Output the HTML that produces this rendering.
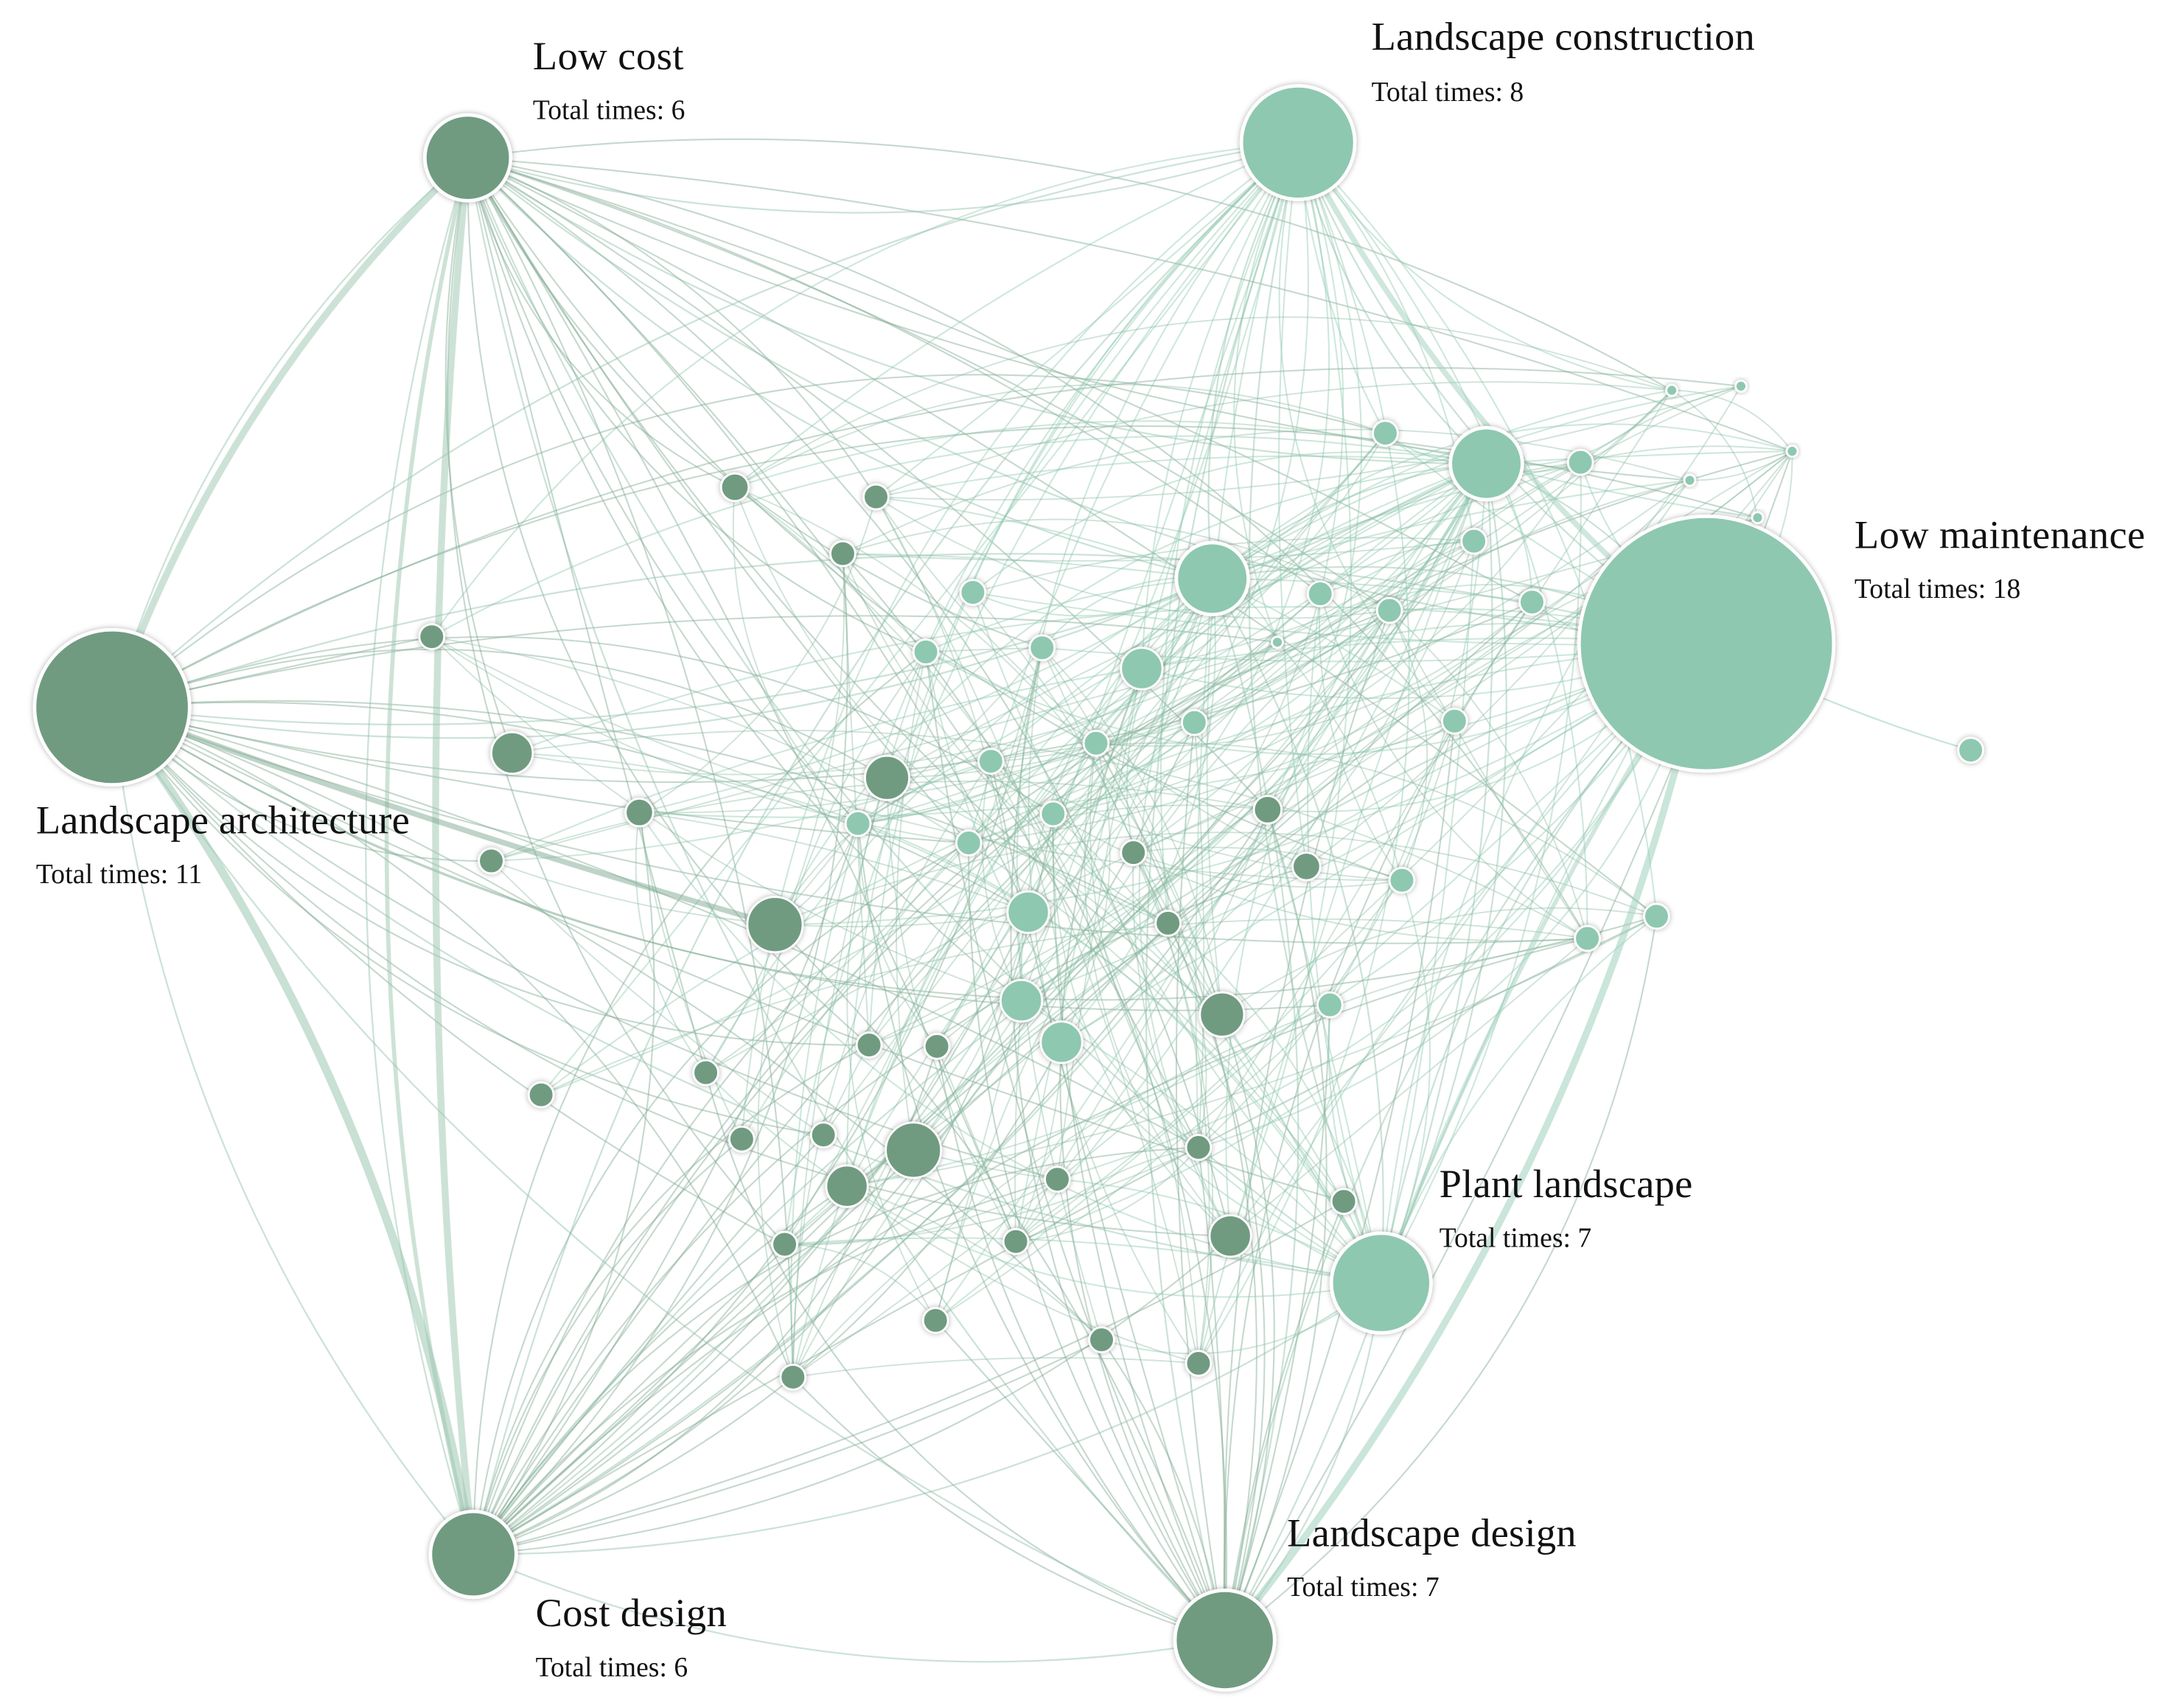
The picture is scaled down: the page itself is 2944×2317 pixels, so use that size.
<!DOCTYPE html>
<html><head><meta charset="utf-8"><style>
html,body{margin:0;padding:0;background:#fff}
svg{display:block}
text{font-family:"Liberation Serif",serif;fill:#111}
</style></head><body>
<svg id="s" width="2944" height="2317" viewBox="0 0 1568 1234" xmlns="http://www.w3.org/2000/svg">
<defs><filter id="sh" x="-30%" y="-30%" width="160%" height="160%"><feDropShadow dx="0" dy="0" stdDeviation="2" flood-color="#000" flood-opacity="0.3"/></filter></defs>
<g id="edges" fill="none"></g>
<g id="nodes"></g>
<g font-size="29" textLength="1">
<text x="385" y="50" textLength="109">Low cost</text>
<text x="991" y="36" textLength="277">Landscape construction</text>
<text x="1340" y="396" textLength="210">Low maintenance</text>
<text x="26" y="602" textLength="270">Landscape architecture</text>
<text x="1040" y="865" textLength="183">Plant landscape</text>
<text x="930" y="1117" textLength="209">Landscape design</text>
<text x="387" y="1175" textLength="138">Cost design</text>
</g>
<g font-size="20">
<text x="385" y="86" textLength="110">Total times: 6</text>
<text x="991" y="73" textLength="110">Total times: 8</text>
<text x="1340" y="432" textLength="120">Total times: 18</text>
<text x="26" y="638" textLength="120">Total times: 11</text>
<text x="1040" y="901" textLength="110">Total times: 7</text>
<text x="930" y="1153" textLength="110">Total times: 7</text>
<text x="387" y="1211" textLength="110">Total times: 6</text>
</g>
</svg>
<script>
var D="#6f9b80",L="#8ec8b0";
var hubs=[[338,114,31,D],[938,103,41,L],[1233,465,92,L],[81,511,56,D],[342,1123,31,D],[885,1185,36,D],[998,927,36,L],[1074,335,26,L],[876,418,26,L]];
var sm=[[531,352,10,D],[633,359,9,D],[609,400,9,D],[312,460,9,D],[370,544,15,D],[462,587,10,D],[641,562,16,D],[355,622,9,D],[560,668,20,D],[819,616,9,D],[916,585,10,D],[944,626,10,D],[844,667,9,D],[883,733,16,D],[628,755,9,D],[677,756,9,D],[510,775,9,D],[391,791,9,D],[536,823,9,D],[595,820,9,D],[660,831,20,D],[612,857,15,D],[764,852,9,D],[866,829,9,D],[971,868,9,D],[889,893,15,D],[734,897,9,D],[567,899,9,D],[676,954,9,D],[796,968,9,D],[866,985,9,D],[573,995,9,D],
[1001,313,9,L],[1142,334,9,L],[1208,282,4,L],[1258,279,4,L],[1295,326,4,L],[1221,347,4,L],[1270,374,4,L],[1065,391,9,L],[1107,435,9,L],[1004,441,9,L],[954,429,9,L],[923,464,4,L],[703,428,9,L],[669,471,9,L],[753,468,9,L],[825,483,15,L],[863,522,9,L],[1051,521,9,L],[716,550,9,L],[792,537,9,L],[761,588,9,L],[620,595,9,L],[700,609,9,L],[743,659,15,L],[738,723,15,L],[767,753,15,L],[1013,636,9,L],[1197,662,9,L],[1147,678,9,L],[961,726,9,L],[1424,542,9,L]];
var all=hubs.concat(sm);
var seed=7;function r(){seed=(seed*16807)%2147483647;return seed/2147483647;}
var E=document.getElementById("edges"),out="";
function edge(a,b,w,op,c,bend){var mx=(a[0]+b[0])/2,my=(a[1]+b[1])/2,dx=b[0]-a[0],dy=b[1]-a[1];
var k=bend;var cx=mx-dy*k,cy=my+dx*k;
out+='<path d="M'+a[0]+' '+a[1]+'Q'+cx.toFixed(1)+' '+cy.toFixed(1)+' '+b[0]+' '+b[1]+'" stroke="'+c+'" stroke-width="'+w+'" stroke-opacity="'+op+'"/>';}
for(var i=0;i<hubs.length;i++){for(var j=0;j<sm.length;j++){if(sm[j][0]==1424&&i!=2)continue;if(r()<0.5){edge(hubs[i],sm[j],1.1,0.45,hubs[i][3]==D?"#7fa991":"#93c9b2",(r()-0.5)*0.55);}}}
for(var n=0;n<150;n++){var a=sm[Math.floor(r()*(sm.length-1))],b=sm[Math.floor(r()*(sm.length-1))];if(a!==b)edge(a,b,1,0.4,"#88b89f",(r()-0.5)*0.5);}
for(var i=0;i<hubs.length;i++)for(var j=i+1;j<hubs.length;j++)edge(hubs[i],hubs[j],1.2,0.45,"#8fbfa8",0.15);
edge(hubs[3],hubs[4],6,0.55,"#9cc6b0",-0.12);
edge(hubs[3],hubs[0],5,0.5,"#9cc6b0",-0.12);
edge(hubs[0],hubs[4],5,0.5,"#9cc6b0",0.05);
edge(hubs[0],hubs[4],3,0.5,"#9cc6b0",0.12);
edge(hubs[2],hubs[5],5,0.55,"#9fd0bb",-0.12);
edge(hubs[1],hubs[2],4,0.5,"#9fd0bb",0.1);
edge(hubs[3],[560,668],4,0.5,"#7fa991",0.02);
edge(hubs[2],hubs[6],3,0.5,"#9fd0bb",0.05);
edge(hubs[2],[1424,542],1.2,0.5,"#93c9b2",0.05);
E.innerHTML=out;
var N="";all.forEach(function(p){N+='<circle cx="'+p[0]+'" cy="'+p[1]+'" r="'+p[2]+'" fill="'+p[3]+'" stroke="#fff" stroke-width="'+(p[2]>20?2.5:1.5)+'" filter="url(#sh)"/>';});
document.getElementById("nodes").innerHTML=N;
</script>
</body></html>
